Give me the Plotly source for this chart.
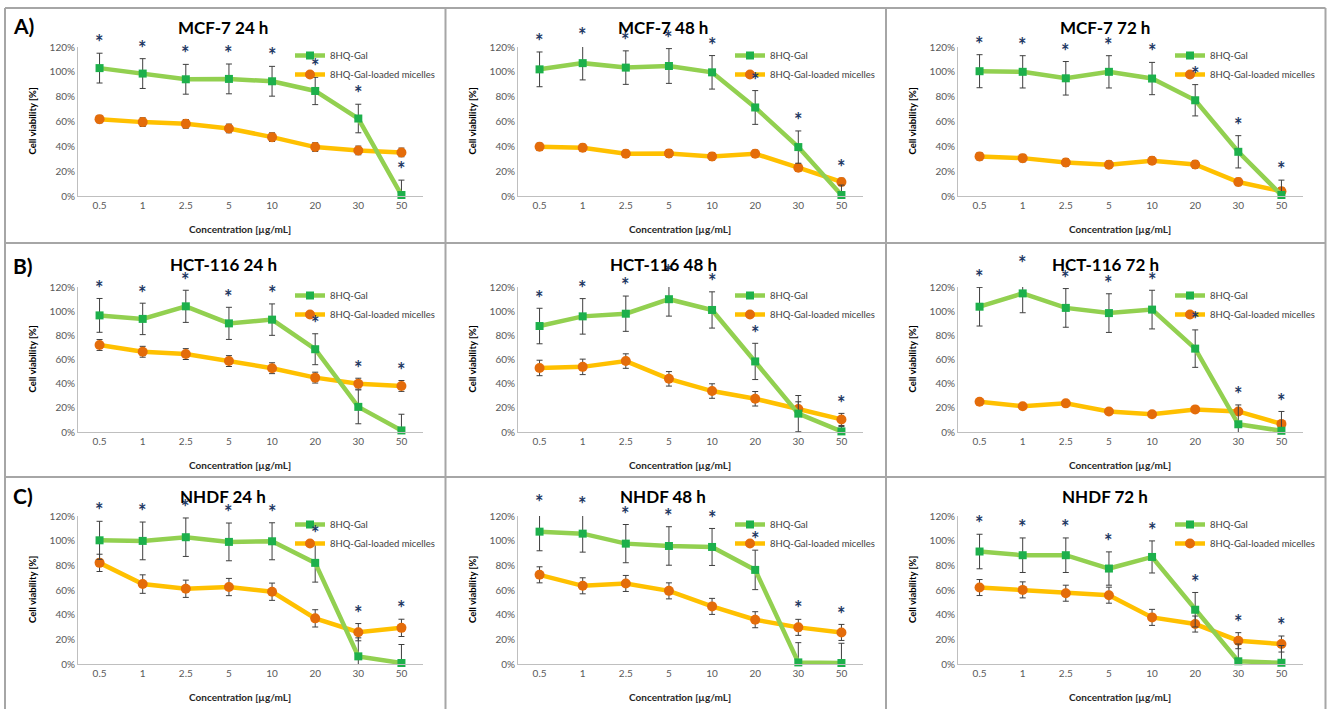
import plotly.graph_objects as go

# ---------------- data ----------------
concentrations = ["0.5", "1", "2.5", "5", "10", "20", "30", "50"]
series_names = ["8HQ-Gal", "8HQ-Gal-loaded micelles"]
row_labels = ["A)", "B)", "C)"]
panel_titles = ["MCF-7 24 h", "MCF-7 48 h", "MCF-7 72 h",
                "HCT-116 24 h", "HCT-116 48 h", "HCT-116 72 h",
                "NHDF 24 h", "NHDF 48 h", "NHDF 72 h"]

mcf7_24_gal = [103.0, 98.6, 94.0, 94.3, 92.4, 84.6, 62.4, 0.8]
mcf7_24_gal_sd = [12, 12, 12, 12, 12, 11, 11.5, 12]
mcf7_24_mic = [61.9, 59.5, 58.1, 54.4, 47.4, 39.4, 36.7, 35.1]
mcf7_24_mic_sd = [3, 3.5, 3.5, 3.5, 3.5, 3.5, 3.5, 3.5]

mcf7_48_gal = [102.0, 107.0, 103.4, 104.7, 99.6, 71.3, 39.4, 0.8]
mcf7_48_gal_sd = [14, 13.5, 13.5, 14, 13.5, 13.6, 13, 8]
mcf7_48_mic = [39.6, 38.8, 34.0, 34.3, 31.9, 34.0, 22.8, 11.3]
mcf7_48_mic_sd = [3, 3, 3, 3, 3, 3, 3, 3]

mcf7_72_gal = [100.5, 100.0, 94.8, 100.0, 94.6, 77.1, 35.6, 0.8]
mcf7_72_gal_sd = [13.3, 13, 13.5, 13, 13, 12.6, 13, 12]
mcf7_72_mic = [31.9, 30.5, 27.0, 25.2, 28.4, 25.4, 11.3, 3.8]
mcf7_72_mic_sd = [3, 3, 3, 3, 3, 3, 3, 3]

hct_24_gal = [96.5, 93.6, 104.0, 89.9, 93.0, 68.5, 20.8, 1.3]
hct_24_gal_sd = [14, 13, 13.3, 13.3, 13, 12.8, 14, 13.4]
hct_24_mic = [72.0, 66.4, 64.5, 58.7, 52.8, 45.0, 40.0, 38.1]
hct_24_mic_sd = [4.5, 4.5, 4.5, 4.5, 4.5, 4.5, 4.5, 4.5]

hct_48_gal = [87.7, 95.7, 97.9, 109.9, 101.0, 58.4, 15.2, 0.5]
hct_48_gal_sd = [14.7, 14.7, 14.6, 14, 15, 15, 15, 4]
hct_48_mic = [53.0, 53.9, 58.7, 44.0, 33.9, 27.5, 19.0, 10.4]
hct_48_mic_sd = [6.4, 6.4, 6, 6, 6, 6, 6, 5]

hct_72_gal = [103.7, 114.7, 102.7, 98.4, 101.3, 69.0, 6.4, 1.0]
hct_72_gal_sd = [16, 16, 16, 16, 16, 15.5, 16, 16]
hct_72_mic = [25.0, 21.3, 23.7, 17.0, 14.7, 18.7, 17.0, 6.7]
hct_72_mic_sd = [1.5, 1.5, 1.5, 1.5, 1.5, 1.5, 1.5, 1.5]

nhdf_24_gal = [100.3, 99.8, 102.8, 99.0, 99.5, 82.0, 6.2, 0.8]
nhdf_24_gal_sd = [15.4, 15.3, 15.6, 15.3, 15, 15.6, 15, 15]
nhdf_24_mic = [82.0, 64.8, 61.0, 62.4, 58.6, 37.0, 25.8, 29.3]
nhdf_24_mic_sd = [7, 7.5, 7, 7, 7, 7, 7, 7]

nhdf_48_gal = [107.3, 105.7, 97.6, 95.7, 94.9, 76.3, 1.3, 0.8]
nhdf_48_gal_sd = [15.5, 15, 15.5, 15.6, 15, 16, 16, 16]
nhdf_48_mic = [72.3, 63.4, 65.3, 59.3, 46.7, 35.9, 29.7, 25.6]
nhdf_48_mic_sd = [6.5, 6.5, 6.5, 6.5, 6.5, 6.5, 6.5, 6.5]

nhdf_72_gal = [91.2, 88.2, 88.2, 77.4, 86.8, 44.0, 2.2, 1.0]
nhdf_72_gal_sd = [14, 14, 14, 13.5, 13, 14, 14, 14]
nhdf_72_mic = [62.0, 60.1, 57.4, 55.8, 37.8, 32.4, 18.9, 16.2]
nhdf_72_mic_sd = [6.5, 6.5, 6.5, 6.5, 6.5, 6.5, 6.5, 6.5]

# significance flags (asterisk shown)
sig_all = [True] * 8
sig_hct_48 = [True, True, True, True, True, True, False, True]
# asterisk placed over the 8HQ-Gal error bar only (instead of the higher one)
over_gal_none = [False] * 8
over_gal_mcf7_24 = [False] * 7 + [True]

panels = [
    (mcf7_24_gal, mcf7_24_gal_sd, mcf7_24_mic, mcf7_24_mic_sd, sig_all, over_gal_mcf7_24),
    (mcf7_48_gal, mcf7_48_gal_sd, mcf7_48_mic, mcf7_48_mic_sd, sig_all, over_gal_none),
    (mcf7_72_gal, mcf7_72_gal_sd, mcf7_72_mic, mcf7_72_mic_sd, sig_all, over_gal_none),
    (hct_24_gal, hct_24_gal_sd, hct_24_mic, hct_24_mic_sd, sig_all, over_gal_none),
    (hct_48_gal, hct_48_gal_sd, hct_48_mic, hct_48_mic_sd, sig_hct_48, over_gal_none),
    (hct_72_gal, hct_72_gal_sd, hct_72_mic, hct_72_mic_sd, sig_all, over_gal_none),
    (nhdf_24_gal, nhdf_24_gal_sd, nhdf_24_mic, nhdf_24_mic_sd, sig_all, over_gal_none),
    (nhdf_48_gal, nhdf_48_gal_sd, nhdf_48_mic, nhdf_48_mic_sd, sig_all, over_gal_none),
    (nhdf_72_gal, nhdf_72_gal_sd, nhdf_72_mic, nhdf_72_mic_sd, sig_all, over_gal_none),
]

# ---------------- style / geometry ----------------
W, H = 1328, 709
FONT = "Lato"
Y_MAX = 120
GREEN_LINE, GREEN_MK = "#92D050", "#1DB04B"
ORANGE_LINE, ORANGE_MK = "#FFC000", "#E46C0A"
ERR_COLOR = "#3F3F3F"
STAR_COLOR = "#1F3A64"
TEXT_COLOR = "#404040"
BORDER = "#A6A6A6"

col_x0 = [78, 518, 958]
plot_w = 345
rows_px = [(47, 196), (287, 432), (516, 664)]
title_x = [223, 663, 1105]
title_y = [27, 264, 496]
label_y = [26, 265, 495]
xtitle_y = [229, 465, 697]


def px(x):
    return x / W


def py(y):
    return 1 - y / H


fig = go.Figure()
layout = dict(
    width=W, height=H, autosize=False,
    margin=dict(l=0, r=0, t=0, b=0, pad=0, autoexpand=False),
    paper_bgcolor="white", plot_bgcolor="white",
    font=dict(family=FONT, color=TEXT_COLOR),
)
annotations = []
shapes = []

for i, (gal, gal_sd, mic, mic_sd, sig, over_gal) in enumerate(panels):
    r, c = divmod(i, 3)
    n = i + 1
    xa = "x" if n == 1 else f"x{n}"
    ya = "y" if n == 1 else f"y{n}"
    lg = "legend" if n == 1 else f"legend{n}"
    top, bot = rows_px[r]
    x0 = col_x0[c]

    layout["xaxis" if n == 1 else f"xaxis{n}"] = dict(
        domain=[px(x0), px(x0 + plot_w)], anchor=ya,
        type="category", categoryorder="array", categoryarray=concentrations,
        range=[-0.5, 7.5], showgrid=False, zeroline=False,
        showline=True, linecolor="#BFBFBF", linewidth=1,
        ticks="", tickfont=dict(size=10, color="#595959", family=FONT),
        fixedrange=True, automargin=False,
    )
    layout["yaxis" if n == 1 else f"yaxis{n}"] = dict(
        domain=[py(bot), py(top)], anchor=xa,
        range=[0, Y_MAX], dtick=20, ticksuffix="%",
        showgrid=False, zeroline=False,
        showline=True, linecolor="#BFBFBF", linewidth=1,
        ticks="", tickfont=dict(size=10, color="#595959", family=FONT),
        fixedrange=True, automargin=False,
    )
    layout[lg] = dict(
        x=px(x0 + 212), y=py(top - 6), xanchor="left", yanchor="top",
        bgcolor="rgba(0,0,0,0)", font=dict(size=9.5, color=TEXT_COLOR, family=FONT),
        itemwidth=30, tracegroupgap=0,
    )

    fig.add_trace(go.Scatter(
        x=concentrations, y=mic, name=series_names[1], mode="lines+markers",
        line=dict(color=ORANGE_LINE, width=4.5),
        marker=dict(symbol="circle", size=10, color=ORANGE_MK),
        error_y=dict(type="data", array=mic_sd, color=ERR_COLOR, thickness=1, width=3),
        xaxis=xa, yaxis=ya, legend=lg, legendrank=2, cliponaxis=False,
    ))
    fig.add_trace(go.Scatter(
        x=concentrations, y=gal, name=series_names[0], mode="lines+markers",
        line=dict(color=GREEN_LINE, width=4.5),
        marker=dict(symbol="square", size=8, color=GREEN_MK),
        error_y=dict(type="data", array=gal_sd, color=ERR_COLOR, thickness=1, width=3),
        xaxis=xa, yaxis=ya, legend=lg, legendrank=1, cliponaxis=False,
    ))
    # asterisks above the error bars of each concentration
    # x: category index; y: in axis-domain units so values above 120 % stay visible
    for k in range(len(concentrations)):
        if not sig[k]:
            continue
        gal_top = gal[k] + gal_sd[k]
        mic_top = mic[k] + mic_sd[k]
        base = gal_top if over_gal[k] else max(gal_top, mic_top)
        star_val = base + 8
        annotations.append(dict(
            text="<b>*</b>", x=k, y=star_val / Y_MAX, xref=xa, yref=f"{ya} domain",
            showarrow=False, xanchor="center", yanchor="middle", yshift=1,
            font=dict(size=20, color=STAR_COLOR, family=FONT)))

    # panel title
    annotations.append(dict(
        text=f"<b>{panel_titles[i]}</b>", x=px(title_x[c]), y=py(title_y[r]),
        xref="paper", yref="paper", showarrow=False, xanchor="center", yanchor="middle",
        font=dict(size=17, color="black", family=FONT)))
    # y axis title
    annotations.append(dict(
        text="<b>Cell viability [%]</b>", x=px(x0 - 46), y=py((top + bot) / 2),
        xref="paper", yref="paper", showarrow=False, textangle=-90,
        xanchor="center", yanchor="middle",
        font=dict(size=9.5, color="black", family=FONT)))
    # x axis title
    annotations.append(dict(
        text="<b>Concentration [µg/mL]</b>", x=px(x0 + 162), y=py(xtitle_y[r]),
        xref="paper", yref="paper", showarrow=False, xanchor="center", yanchor="middle",
        font=dict(size=10, color="#262626", family=FONT)))

for r in range(3):
    annotations.append(dict(
        text=f"<b>{row_labels[r]}</b>", x=px(23), y=py(label_y[r]),
        xref="paper", yref="paper", showarrow=False, xanchor="center", yanchor="middle",
        font=dict(size=21, color="black", family=FONT)))

# panel frame lines
for xv in [5, 445.5, 886, 1325.5]:
    shapes.append(dict(type="line", xref="paper", yref="paper",
                       x0=px(xv), x1=px(xv), y0=py(8), y1=py(709),
                       line=dict(color=BORDER, width=2)))
for yv in [8, 243, 477]:
    shapes.append(dict(type="line", xref="paper", yref="paper",
                       x0=px(5), x1=px(1325.5), y0=py(yv), y1=py(yv),
                       line=dict(color=BORDER, width=2)))

layout["annotations"] = annotations
layout["shapes"] = shapes
fig.update_layout(**layout)
fig.write_html(
    "out.html",
    config={"displayModeBar": False},
    post_script=(
        "document.documentElement.style.margin='0';"
        "document.documentElement.style.overflow='hidden';"
        "document.body.style.margin='0';document.body.style.padding='0';"
        "document.body.style.overflow='hidden';"
        "var gd=document.getElementById('{plot_id}');"
        "gd.style.position='fixed';gd.style.top='0px';gd.style.left='0px';"
    ),
)
